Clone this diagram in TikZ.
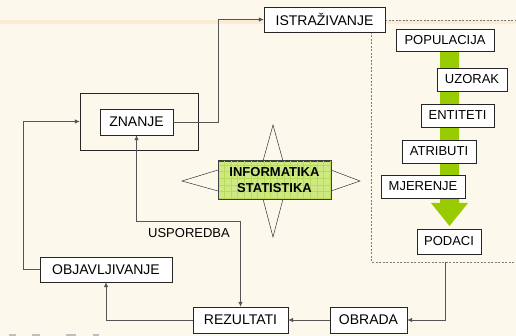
\documentclass[tikz,border=0pt]{standalone}
\usepackage{fontspec}
\setmainfont{Liberation Sans}
\usetikzlibrary{arrows.meta}
\definecolor{bg}{RGB}{253,248,236}
\definecolor{band}{RGB}{251,236,212}
\definecolor{linkgray}{RGB}{85,85,85}
\definecolor{dashgray}{RGB}{125,125,125}
\definecolor{arrowgreen}{RGB}{153,204,0}
\definecolor{infogreen}{RGB}{206,232,130}
\definecolor{infogrid}{RGB}{182,220,90}
\begin{document}
\begin{tikzpicture}[x=1pt,y=-1pt,
	box/.style={draw=black!85, fill=white, inner sep=0pt, minimum height=25pt, font=\fontsize{14}{16}\selectfont},
	smallbox/.style={box, minimum height=23pt, font=\fontsize{13}{15}\selectfont},
	link/.style={draw=linkgray, line width=0.8pt, -{Latex[length=5pt,width=4.5pt]}},
	starline/.style={draw=black!80, line width=0.5pt}]
	\fill [bg] (0,0) rectangle (516,336);
	\useasboundingbox (0,0) rectangle (516,336);
	\fill [band] (0,20) rectangle (516,24);
	\draw [dashgray, line width=0.7pt, dash pattern=on 2pt off 1.5pt] (385,20) -- (516,20);
	\draw [dashgray, line width=0.7pt, dash pattern=on 2pt off 1.5pt] (371,32) -- (371,262) -- (516,262);
	\fill [arrowgreen] (440,52) -- (459,52) -- (459,203) -- (468,203) -- (449.5,226) -- (431,203) -- (440,203) -- cycle;
	\draw [starline] (263,161) -- (273,125) -- (283,161);
	\draw [starline] (263,199) -- (273,237) -- (283,199);
	\draw [starline] (218,170) -- (182,181) -- (218,191);
	\draw [starline] (331,170) -- (360,181) -- (331,191);
	\node [box, minimum width=121pt] (istr) at (324.5,19.5) {ISTRAŽIVANJE};
	\node [draw=black!85, minimum width=118pt, minimum height=57pt] (outer) at (139,121.5) {};
	\node [box, minimum width=73pt, minimum height=26pt] (znanje) at (136.5,122) {ZNANJE};
	\node [box, minimum width=132pt] (objav) at (106,269.5) {OBJAVLJIVANJE};
	\node [box, minimum width=95pt, minimum height=26pt] (rez) at (240.5,320) {REZULTATI};
	\node [box, minimum width=77pt, minimum height=26pt] (obrada) at (368.5,320) {OBRADA};
	\node [smallbox, minimum width=64pt, minimum height=25pt] (podaci) at (449,241.5) {PODACI};
	\node [smallbox, minimum width=98pt, minimum height=22pt] (popul) at (445,40) {POPULACIJA};
	\node [smallbox, minimum width=70pt] (uzorak) at (472,79.5) {UZORAK};
	\node [smallbox, minimum width=73pt] (entit) at (457.5,115.5) {ENTITETI};
	\node [smallbox, minimum width=74pt] (atrib) at (439,151.5) {ATRIBUTI};
	\node [smallbox, minimum width=84pt] (mjer) at (423,186.5) {MJERENJE};
	\node [draw=black!75, fill=infogreen, minimum width=113pt, minimum height=38pt] (info) at (274.5,180) {};
	\draw [infogrid, line width=0.3pt] (info.north west) grid [step=6.6pt] (info.south east);
	\draw [black!75, line width=0.6pt] (info.north west) rectangle (info.south east);
	\node [align=center, font=\fontsize{13}{16}\selectfont\bfseries] (infotext) at (info.center) {INFORMATIKA\\STATISTIKA};
	\node [font=\fontsize{13}{15}\selectfont] (usp) at (189,233) {USPOREDBA};
	\coordinate (out) at (445,262);
	\draw [link] (znanje.east) -- ++(45,0) |- (istr.west);
	\draw [link] (objav.west) -- ++(-16,0) |- (outer.west);
	\draw [link] (rez.west) -| (objav.south);
	\draw [link] (obrada.west) -- (rez.east);
	\draw [link] (out) |- (obrada.east);
	\draw [link, {Latex[length=5pt,width=4.5pt]}-{Latex[length=5pt,width=4.5pt]}] (znanje.south) -- ++(0,86) -| (rez.north);
	\fill [black!25] (9,333.5) rectangle (16,336);
	\fill [black!25] (32,333.5) rectangle (40,336);
	\fill [black!25] (66,333.5) rectangle (76,336);
	\fill [black!25] (93,333.5) rectangle (99,336);
\end{tikzpicture}
\end{document}
